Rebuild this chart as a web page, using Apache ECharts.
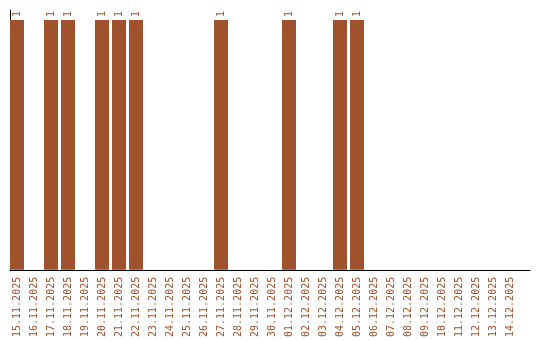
<!DOCTYPE html>
<html><head><meta charset="utf-8">
<script src="https://cdn.jsdelivr.net/npm/echarts@6/dist/echarts.min.js"></script>
<style>html,body{margin:0;padding:0;background:#fff}#c{width:540px;height:340px}</style>
</head><body><div id="c"></div>
<script>
var categories = ["15.11.2025","16.11.2025","17.11.2025","18.11.2025","19.11.2025","20.11.2025","21.11.2025","22.11.2025","23.11.2025","24.11.2025","25.11.2025","26.11.2025","27.11.2025","28.11.2025","29.11.2025","30.11.2025","01.12.2025","02.12.2025","03.12.2025","04.12.2025","05.12.2025","06.12.2025","07.12.2025","08.12.2025","09.12.2025","10.12.2025","11.12.2025","12.12.2025","13.12.2025","14.12.2025"];
var counts = [1,0,1,1,0,1,1,1,0,0,0,0,1,0,0,0,1,0,0,1,1,0,0,0,0,0,0,0,0,0];
var yMax = 1.04;
var color = '#A0522D';
var font = 'DejaVu Sans Mono';
var chart = echarts.init(document.getElementById('c'), null, {renderer:'canvas'});
chart.setOption({
  animation:false,
  grid:[
    {left:8.5, width:510, top:10, height:260},
    {left:10, width:520, top:10, height:260}
  ],
  xAxis:[
    {type:'category', gridIndex:0, data:categories,
     axisLine:{show:false}, axisTick:{show:false},
     axisLabel:{rotate:90, interval:0, color:color, fontFamily:font, fontSize:10, margin:7}},
    {type:'value', gridIndex:1, min:0, max:1, axisLabel:{show:false}, axisTick:{show:false}, splitLine:{show:false},
     axisLine:{show:true, onZero:false, lineStyle:{color:'#000', width:1}}}
  ],
  yAxis:[
    {type:'value', gridIndex:0, min:0, max:yMax, show:false, splitLine:{show:false}},
    {type:'value', gridIndex:1, min:0, max:1, axisLabel:{show:false}, axisTick:{show:false}, splitLine:{show:false},
     axisLine:{show:true, lineStyle:{color:'#000', width:1}}}
  ],
  series:[{
    type:'bar', xAxisIndex:0, yAxisIndex:0, data:counts, barWidth:14,
    itemStyle:{color:color},
    label:{show:true, position:'top', rotate:90, align:'left', verticalAlign:'middle', distance:3,
      color:color, fontFamily:font, fontSize:10,
      formatter:function(p){return p.value ? String(p.value) : '';}}
  }]
});
</script></body></html>
